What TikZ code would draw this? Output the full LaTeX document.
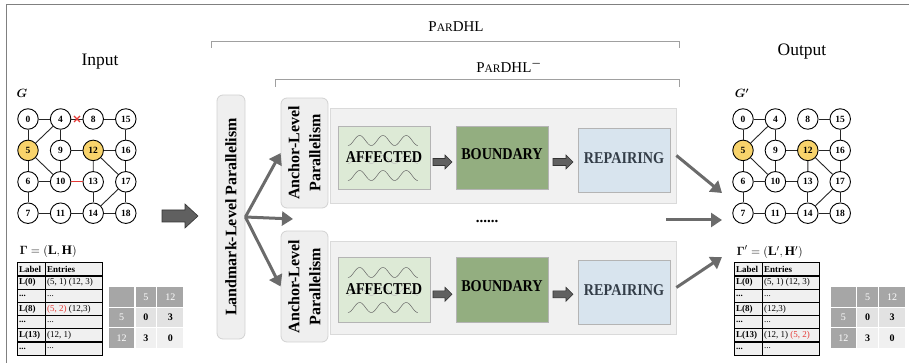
\documentclass[tikz,border=0pt]{standalone}
\usepackage{amsmath}
\usepackage{fontspec}
\setmainfont{Liberation Serif}
\usetikzlibrary{arrows.meta}
\definecolor{framegray}{HTML}{808080}
\definecolor{arrgray}{HTML}{6B6B6B}
\definecolor{boxgray}{HTML}{EFEFEF}
\definecolor{boxline}{HTML}{D2D2D2}
\definecolor{panelgray}{HTML}{F1F1F1}
\definecolor{panelline}{HTML}{DADADA}
\definecolor{affgreen}{HTML}{DDEAD6}
\definecolor{bndgreen}{HTML}{93AE80}
\definecolor{repblue}{HTML}{D8E4EE}
\definecolor{reptext}{HTML}{333D48}
\definecolor{stageline}{HTML}{B4B4B4}
\definecolor{nodeyellow}{HTML}{F8D36B}
\definecolor{edgered}{HTML}{E53935}
\definecolor{blkfill}{HTML}{606060}
\definecolor{blkline}{HTML}{333333}
\definecolor{mdark}{HTML}{A6A6A6}
\definecolor{mmid}{HTML}{E2E2E2}
\definecolor{mlight}{HTML}{F0F0F0}
\definecolor{tblfill}{HTML}{F0F0F0}
\definecolor{bracketgray}{HTML}{A0A0A0}
\newcommand\stx[1]{\scalebox{0.86}[1]{#1}}
\newcommand\tdots{...}
\newcommand\pardhl{\fontsize{15}{16}\selectfont P\fontsize{11.5}{12}\selectfont AR\fontsize{15}{16}\selectfont DHL}
\newcommand\blkarr[6]{%
  \filldraw[blockarrow] (#1,#3-#4) -- (#2-#6,#3-#4) -- (#2-#6,#3-#5) -- (#2,#3)
    -- (#2-#6,#3+#5) -- (#2-#6,#3+#4) -- (#1,#3+#4) -- cycle;}
\newcommand\affwaves[2]{% center y of box, name
  \draw[wave] plot[domain=0:3,samples=90] ({348+\x*23.3},{#1-17+5*cos(\x*360)});
  \draw[wave] plot[domain=0:3,samples=90] ({348+\x*23.3},{#1+18+5*cos(\x*360)});
  \draw[wave,draw=black!25] plot[domain=0:3,samples=90] ({348+\x*23.3},{#1+2+4*cos(\x*360)});}
\newcommand\tgrid[1]{% x0
  \filldraw[fill=tblfill,draw=black,line width=0.9pt] (#1,262.7) rectangle (#1+85,355.1);
  \draw[black,line width=0.9pt] (#1+28,262.7) -- (#1+28,355.1);
  \foreach \k in {1,2,3,4,5,6}{\draw[black,line width=1.2pt] (#1,{262.7+13.2*\k}) -- (#1+85,{262.7+13.2*\k});}}
\newcommand\hmatrix[2]{% prefix, shift
  \node[mcell,fill=mdark,minimum width=26.7pt,minimum height=20.6pt] (#1a) at (#2+121.65,297) {};
  \node[mcell,fill=mdark,text=white,minimum width=21.7pt,minimum height=20.6pt] (#1b) at (#2+145.85,297) {5};
  \node[mcell,fill=mdark,text=white,minimum width=27.3pt,minimum height=20.6pt] (#1c) at (#2+170.35,297) {12};
  \node[mcell,fill=mdark,text=white,minimum width=26.7pt,minimum height=20pt] (#1d) at (#2+121.65,317.3) {5};
  \node[mcell,fill=mmid,font=\fontsize{10}{11}\selectfont\bfseries,minimum width=21.7pt,minimum height=20pt] (#1e) at (#2+145.85,317.3) {0};
  \node[mcell,fill=mmid,font=\fontsize{10}{11}\selectfont\bfseries,minimum width=27.3pt,minimum height=20pt] (#1f) at (#2+170.35,317.3) {3};
  \node[mcell,fill=mdark,text=white,minimum width=26.7pt,minimum height=21pt] (#1g) at (#2+121.65,337.8) {12};
  \node[mcell,fill=mlight,font=\fontsize{10}{11}\selectfont\bfseries,minimum width=21.7pt,minimum height=21pt] (#1h) at (#2+145.85,337.8) {3};
  \node[mcell,fill=mlight,font=\fontsize{10}{11}\selectfont\bfseries,minimum width=27.3pt,minimum height=21pt] (#1i) at (#2+170.35,337.8) {0};}
\begin{document}
\begin{tikzpicture}[x=1pt,y=-1pt,
  gnode/.style={circle,draw=black,line width=0.9pt,fill=white,minimum size=20.5pt,inner sep=0pt,font=\fontsize{9.5}{10}\selectfont\bfseries},
  ynode/.style={gnode,fill=nodeyellow},
  gedge/.style={draw=black!85,line width=0.9pt},
  flow/.style={draw=arrgray,line width=3pt,-{Triangle[length=11pt,width=14pt]}},
  sidebox/.style={draw=boxline,fill=boxgray,rounded corners=6pt,line width=0.8pt,inner sep=0pt},
  panel/.style={draw=panelline,fill=panelgray,line width=0.8pt,inner sep=0pt},
  stage/.style={draw=stageline,line width=0.8pt,inner sep=0pt,minimum width=92pt},
  stagetext/.style={font=\fontsize{16.5}{18}\selectfont\bfseries,inner sep=0pt},
  wave/.style={draw=black!60,line width=0.5pt},
  bracketline/.style={draw=bracketgray,line width=0.8pt},
  blockarrow/.style={fill=blkfill,draw=blkline,line width=0.6pt},
  title/.style={font=\fontsize{17.5}{19}\selectfont},
  tcell/.style={font=\fontsize{9}{10}\selectfont,inner sep=0pt,anchor=west},
  mcell/.style={draw=white,line width=1.5pt,inner sep=0pt,font=\fontsize{10}{11}\selectfont}]
\useasboundingbox (0,0) rectangle (909,363);
% frame
\draw[framegray,line width=1.5pt] (909,4.5) -- (6.5,4.5) -- (6.5,363);

% titles
\node[title] (tin) at (100,62) {Input};
\node[title] (tout) at (802,52) {Output};
\node[inner sep=0pt] (tpar) at (456,27) {\pardhl};
\node[inner sep=0pt] (tparm) at (509,66) {\pardhl$^{\boldsymbol{-}}$};
\draw[bracketline] (211,48) -- (211,41.5) -- (679,41.5) -- (679,48);
\draw[bracketline] (275,87) -- (275,79.5) -- (679,79.5) -- (679,87);

% ===== input graph =====
\node[font=\fontsize{12}{14}\selectfont] (gl) at (22,93) {$\boldsymbol{G}$};
\foreach \n/\c/\r in {0/0/0,4/1/0,8/2/0,15/3/0,9/1/1,16/3/1,6/0/2,10/1/2,13/2/2,17/3/2,7/0/3,11/1/3,14/2/3,18/3/3}
  {\node[gnode] (L\n) at ({28+32.6*\c},{119+31.4*\r}) {\n};}
\node[ynode] (L5) at (28,150.4) {5};
\node[ynode] (L12) at (93.2,150.4) {12};
\foreach \a/\b in {0/4,4/8,8/15,0/5,4/5,4/9,9/12,12/16,15/16,5/6,5/10,9/10,6/10,12/13,12/17,16/17,6/7,7/11,11/14,13/14,14/17,14/18,17/18}
  {\draw[gedge] (L\a) -- (L\b);}
\draw[draw=edgered,line width=1pt] (L10) -- (L13);
\draw[edgered,line width=1.1pt] (74,116) -- (80,122) (74,122) -- (80,116);

% ===== output graph =====
\node[font=\fontsize{12}{14}\selectfont] (gpl) at (742,93) {$\boldsymbol{G'}$};
\foreach \n/\c/\r in {0/0/0,4/1/0,8/2/0,15/3/0,9/1/1,16/3/1,6/0/2,10/1/2,13/2/2,17/3/2,7/0/3,11/1/3,14/2/3,18/3/3}
  {\node[gnode] (R\n) at ({743+32.4*\c},{119+31.4*\r}) {\n};}
\node[ynode] (R5) at (743,150.4) {5};
\node[ynode] (R12) at (807.8,150.4) {12};
\foreach \a/\b in {0/4,8/15,0/5,4/5,4/9,9/12,12/16,15/16,5/6,5/10,9/10,6/10,10/13,12/13,12/17,16/17,6/7,7/11,11/14,13/14,14/17,14/18,17/18}
  {\draw[gedge] (R\a) -- (R\b);}

% ===== index tables =====
\node[font=\fontsize{13}{15}\selectfont,anchor=west] (gam) at (16,251) {$\boldsymbol{\Gamma} = (\mathbf{L}, \mathbf{H})$};
\node[font=\fontsize{13}{15}\selectfont,anchor=west] (gamp) at (733,252) {$\boldsymbol{\Gamma}' = (\mathbf{L}', \mathbf{H}')$};
\tgrid{17}
\tgrid{734}
\foreach \i/\lab/\ent in {0/Label/{\textbf{Entries}},1/L(0)/{(5, 1) (12, 3)},2/\tdots/\tdots,3/L(8)/{\textcolor{edgered}{(5, 2)} (12,3)},4/\tdots/\tdots,5/L(13)/{(12, 1)},6/\tdots/\tdots}
  {\node[tcell,font=\fontsize{9}{10}\selectfont\bfseries] (ta\i) at (19,{262.7+13.2*\i+6.6}) {\lab};
   \node[tcell] (tb\i) at (47,{262.7+13.2*\i+6.6}) {\ent};}
\foreach \i/\lab/\ent in {0/Label/{\textbf{Entries}},1/L(0)/{(5, 1) (12, 3)},2/\tdots/\tdots,3/L(8)/{(12,3)},4/\tdots/\tdots,5/L(13)/{(12, 1) \textcolor{edgered}{(5, 2)}},6/\tdots/\tdots}
  {\node[tcell,font=\fontsize{9}{10}\selectfont\bfseries] (tc\i) at (736,{262.7+13.2*\i+6.6}) {\lab};
   \node[tcell] (td\i) at (764,{262.7+13.2*\i+6.6}) {\ent};}
\hmatrix{ml}{0}
\hmatrix{mr}{721.7}

% ===== big input arrow =====
\blkarr{162}{198}{216}{6}{12}{13}

% ===== landmark level =====
\node[sidebox,minimum width=28pt,minimum height=244pt] (lm) at (231,217) {};
\node[rotate=90,font=\fontsize{16}{18}\selectfont\bfseries] (lmt) at (lm.center) {Landmark-Level Parallelism};

% ===== anchor level boxes =====
\node[sidebox,minimum width=47pt,minimum height=110pt] (anc1) at (304.5,153) {};
\node[rotate=90,align=center,font=\fontsize{16}{21}\selectfont\bfseries] (anc1t) at (anc1.center) {Anchor-Level\\Parallelism};
\node[sidebox,minimum width=47pt,minimum height=111pt] (anc2) at (304.5,286.5) {};
\node[rotate=90,align=center,font=\fontsize{16}{21}\selectfont\bfseries] (anc2t) at (anc2.center) {Anchor-Level\\Parallelism};

% ===== panels =====
\node[panel,minimum width=346pt,minimum height=95pt] (pan1) at (503,155.5) {};
\node[panel,minimum width=346pt,minimum height=93pt] (pan2) at (503,287.5) {};

% upper row
\node[stage,fill=affgreen,minimum height=63pt] (aff1) at (384,157.5) {};
\affwaves{157.5}{a}
\node[stagetext] (aff1t) at (384,157.5) {\stx{AFFECTED}};
\node[stage,fill=bndgreen,minimum height=63pt] (bnd1) at (502,157.5) {};
\node[stagetext] (bnd1t) at (502,154) {\stx{BOUNDARY}};
\node[stage,fill=repblue,minimum height=64pt] (rep1) at (624,160) {};
\node[stagetext,text=reptext] (rep1t) at (624,158) {\stx{REPAIRING}};
\blkarr{433}{452}{162}{3.5}{7}{7}
\blkarr{553}{573}{162}{3.5}{7}{7}

% lower row
\node[stage,fill=affgreen,minimum height=65pt] (aff2) at (384,289.5) {};
\affwaves{289.5}{b}
\node[stagetext] (aff2t) at (384,289.5) {\stx{AFFECTED}};
\node[stage,fill=bndgreen,minimum height=65pt] (bnd2) at (502,289.5) {};
\node[stagetext] (bnd2t) at (502,286) {\stx{BOUNDARY}};
\node[stage,fill=repblue,minimum height=64pt] (rep2) at (624,292) {};
\node[stagetext,text=reptext] (rep2t) at (624,290) {\stx{REPAIRING}};
\blkarr{433}{452}{294.3}{3.5}{7}{7}
\blkarr{553}{573}{294.3}{3.5}{7}{7}

% dots
\node[font=\fontsize{15}{15}\selectfont\bfseries,inner sep=0pt] (dots) at (487,221) {......};

% ===== flow arrows =====
\coordinate (mid) at (293,219);
\draw[flow] (lm.east) -- (anc1.west);
\draw[flow] (lm.east) -- (mid);
\draw[flow] (lm.east) -- (anc2.west);
\coordinate (o1) at (722,193);
\coordinate (ms) at (666,220);
\coordinate (o2) at (722,220);
\coordinate (o3) at (722,257);
\draw[flow] (pan1.east) -- (o1);
\draw[flow] (ms) -- (o2);
\draw[flow] (pan2.east) -- (o3);
\end{tikzpicture}
\end{document}
